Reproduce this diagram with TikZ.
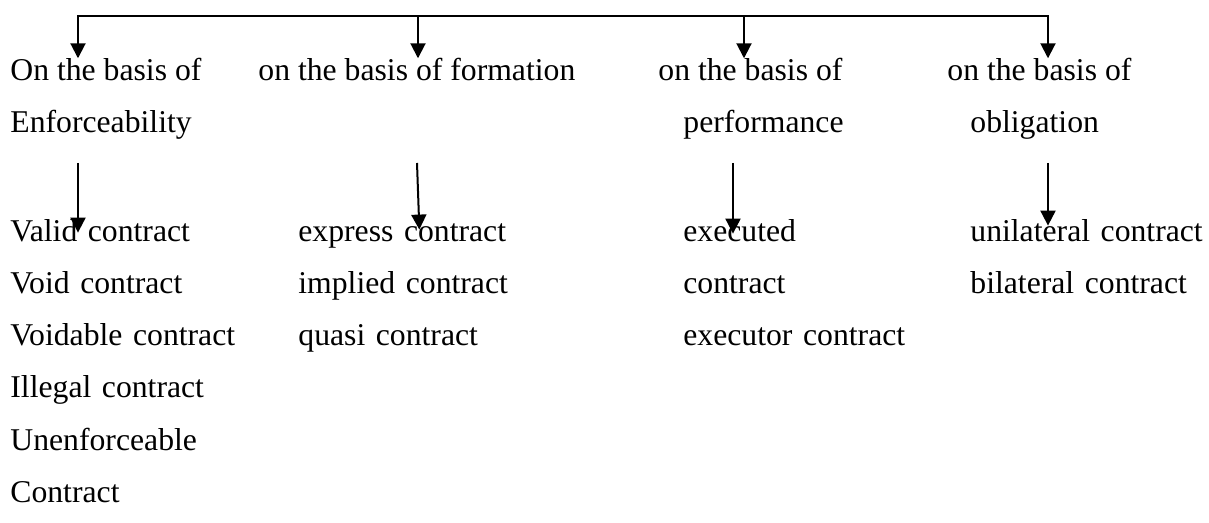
\documentclass[tikz,border=0pt]{standalone}
\usepackage{fontspec}
\setmainfont{Liberation Serif}
\usetikzlibrary{arrows.meta,positioning}

\newcommand{\labelfont}{\fontsize{15.85}{19}\selectfont}

\tikzstyle{head}=[inner sep=0pt,anchor=base west,font=\labelfont]
\tikzstyle{item}=[inner sep=0pt,text width=120pt,align=left,text height=11pt,text depth=3.5pt,font=\labelfont]
\tikzstyle{pre}=[-{Triangle[width=7.5pt,length=7.5pt]},line width=1pt]

\begin{document}
\begin{tikzpicture}[x=0.5pt,y=-0.5pt]
        \useasboundingbox (0,0) rectangle (1209,523);

        % headings
        \node[head] (enf1)  at (10,81)   {On the basis of};
        \node[head] (enf2)  at (10,133)  {Enforceability};
        \node[head] (form)  at (258,81)  {on the basis of formation};
        \node[head] (perf1) at (658,81)  {on the basis of};
        \node[head] (perf2) at (683,133) {performance};
        \node[head] (obl1)  at (947,81)  {on the basis of};
        \node[head] (obl2)  at (970,133) {obligation};

        % kinds of contract
        \node[item,anchor=base west] (valid) at (10,242) {Valid contract};
        \node[item] (void)     [below of=valid,    node distance=26pt] {Void contract};
        \node[item] (voidable) [below of=void,     node distance=26pt] {Voidable contract};
        \node[item] (illegal)  [below of=voidable, node distance=26pt] {Illegal contract};
        \node[item] (unenf)    [below of=illegal,  node distance=26pt] {Unenforceable};
        \node[item] (unenfb)   [below of=unenf,    node distance=26pt] {Contract};

        \node[item,anchor=base west] (express) at (298,242) {express contract};
        \node[item] (implied)  [below of=express,  node distance=26pt] {implied contract};
        \node[item] (quasi)    [below of=implied,  node distance=26pt] {quasi contract};

        \node[item,anchor=base west] (executed) at (683,242) {executed};
        \node[item] (executedb) [below of=executed, node distance=26pt] {contract};
        \node[item] (executor)  [below of=executedb, node distance=26pt] {executor contract};

        \node[item,anchor=base west] (unilat) at (970,242) {unilateral contract};
        \node[item] (bilat)    [below of=unilat,   node distance=26pt] {bilateral contract};

        % top bracket
        \coordinate (t1) at (78,16);
        \coordinate (t2) at (418,16);
        \coordinate (t3) at (744,16);
        \coordinate (t4) at (1048,16);
        \draw[{Triangle[width=7.5pt,length=7.5pt]}-{Triangle[width=7.5pt,length=7.5pt]},line width=1pt,line join=miter]
         (t1 |- enf1.north) -- (t1) -- (t4) -- (t4 |- obl1.north);
        \draw[pre] (t2) -- (t2 |- form.north);
        \draw[pre] (t3) -- (t3 |- perf1.north);

        % down to the lists
        \coordinate (d1) at (78,163);
        \coordinate (d2) at (417,163);
        \coordinate (d3) at (733,163);
        \coordinate (d4) at (1048,163);
        \draw[pre,shorten >=-6.5pt] (d1) -- (d1 |- valid.north);
        \draw[pre,shorten >=-5pt]   (d2) -- ([xshift=1pt]d2 |- express.north);
        \draw[pre,shorten >=-7pt]   (d3) -- (d3 |- executed.north);
        \draw[pre,shorten >=-3pt]   (d4) -- (d4 |- unilat.north);
\end{tikzpicture}
\end{document}
